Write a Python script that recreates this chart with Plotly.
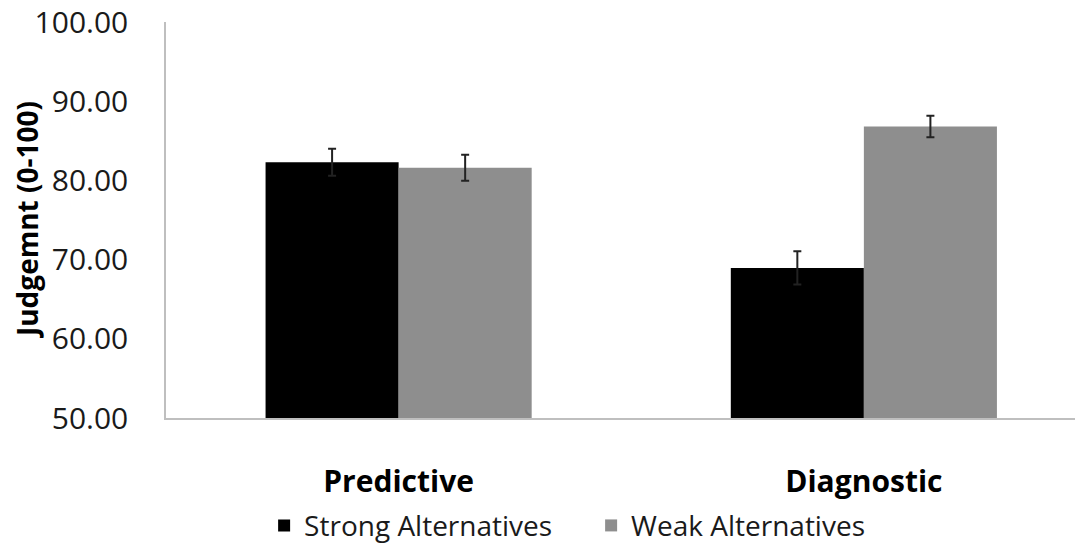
import plotly.graph_objects as go

categories = ["Predictive", "Diagnostic"]
strong_vals = [82.3, 68.95]
weak_vals = [81.6, 86.8]
strong_err = [1.7, 2.1]
weak_err = [1.65, 1.35]
y_ticks = [50, 60, 70, 80, 90, 100]
y_tick_labels = ["50.00", "60.00", "70.00", "80.00", "90.00", "100.00"]

fig = go.Figure()
fig.add_trace(go.Bar(
    x=categories, y=strong_vals, name="Strong Alternatives",
    marker=dict(color="#000000", line=dict(width=0)),
    error_y=dict(type="data", array=strong_err, color="#222222", thickness=2, width=4),
))
fig.add_trace(go.Bar(
    x=categories, y=weak_vals, name="Weak Alternatives",
    marker=dict(color="#8e8e8e", line=dict(width=0)),
    error_y=dict(type="data", array=weak_err, color="#222222", thickness=2, width=4),
))

fig.update_layout(
    width=1075, height=537,
    margin=dict(l=158, r=0, t=14, b=127, autoexpand=False),
    plot_bgcolor="white", paper_bgcolor="white",
    barmode="group", bargap=0.428, bargroupgap=0,
    font=dict(family="Open Sans", color="#1a1a1a"),
    showlegend=True,
    legend=dict(orientation="h", x=0.107, xanchor="left", y=-0.272, yanchor="middle",
                font=dict(size=28, color="#1a1a1a"), itemsizing="constant",
                traceorder="normal", entrywidth=282, entrywidthmode="pixels"),
)
fig.update_yaxes(
    range=[50, 100], tickvals=y_ticks, ticktext=y_tick_labels, automargin=False,
    showgrid=False, zeroline=False, showline=True, linecolor="#bfbfbf", linewidth=1.5,
    ticks="", tickfont=dict(size=30, color="#1a1a1a"), ticklabelstandoff=30,
    ticklabeloverflow="allow",
)
fig.update_xaxes(
    range=[-0.5, 1.471], showgrid=False, zeroline=False, showline=True, automargin=False,
    linecolor="#bfbfbf", linewidth=1.5, ticks="",
    tickfont=dict(size=30, color="#000000", family="Open Sans"),
    ticktext=["<b>Predictive</b>", "<b>Diagnostic</b>"], tickvals=categories,
    ticklabelstandoff=36, ticklabeloverflow="allow",
)
fig.add_annotation(
    text="<b>Judgemnt (0-100)</b>", textangle=-90, xref="paper", yref="paper",
    x=-0.1515, y=0.5, xanchor="center", yanchor="middle", showarrow=False,
    font=dict(size=28, color="#000000"),
)
fig.write_html("out.html")
